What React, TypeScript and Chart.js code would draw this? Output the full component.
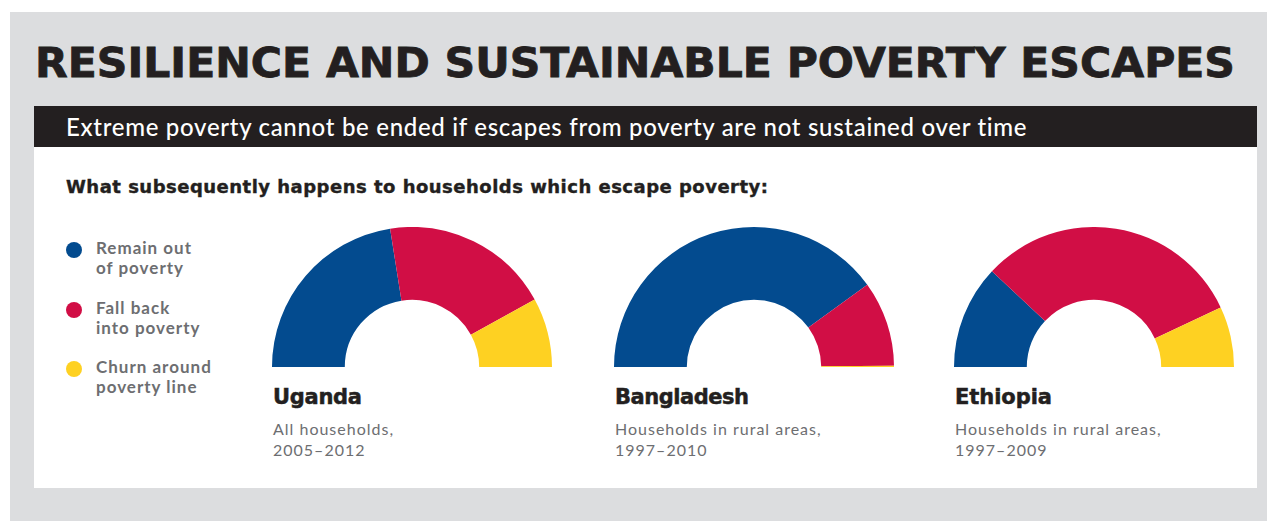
import React, { useEffect, useLayoutEffect, useRef } from "react";
import { Chart, registerables } from "chart.js";

Chart.register(...registerables);

const title = "RESILIENCE AND SUSTAINABLE POVERTY ESCAPES";
const subtitle = "Extreme poverty cannot be ended if escapes from poverty are not sustained over time";
const question = "What subsequently happens to households which escape poverty:";

const seriesNames = ["Remain out of poverty", "Fall back into poverty", "Churn around poverty line"];
const legendLines = [["Remain out", "of poverty"], ["Fall back", "into poverty"], ["Churn around", "poverty line"]];
const seriesColors = ["#034b8f", "#d10e45", "#fed122"];

const countries = ["Uganda", "Bangladesh", "Ethiopia"];
const countryNotes = [
  ["All households,", "2005–2012"],
  ["Households in rural areas,", "1997–2010"],
  ["Households in rural areas,", "1997–2009"],
];
const remainOut = [45, 80, 24];
const fallBack = [39, 19.7, 62];
const churn = [16, 0.3, 14];

const FONT = "Lato, 'Open Sans', sans-serif";
const HEAVY = "'DejaVu Sans', 'Open Sans', sans-serif";
const DARK = "#231f20";
const GREY = "#6d6e71";

function FitText({
  text,
  width,
  style,
  scale,
}: {
  text: string;
  width: number;
  style: React.CSSProperties;
  scale?: boolean;
}) {
  const ref = useRef<HTMLSpanElement>(null);
  useLayoutEffect(() => {
    const el = ref.current;
    if (!el) return;
    el.style.letterSpacing = "0px";
    el.style.transform = "none";
    const w = el.getBoundingClientRect().width;
    if (scale) {
      el.style.transformOrigin = "0 0";
      el.style.transform = `scaleX(${width / w})`;
    } else {
      const n = Math.max(text.length - 1, 1);
      el.style.letterSpacing = (width - w) / n + "px";
    }
  }, [text, width, scale]);
  return (
    <span ref={ref} style={{ ...style, whiteSpace: "nowrap", display: "inline-block" }}>
      {text}
    </span>
  );
}

function HalfDoughnut({ idx, left }: { idx: number; left: number }) {
  const ref = useRef<HTMLCanvasElement>(null);
  useEffect(() => {
    if (!ref.current) return;
    const chart = new Chart(ref.current, {
      type: "doughnut",
      data: {
        labels: seriesNames,
        datasets: [
          {
            data: [remainOut[idx], fallBack[idx], churn[idx]],
            backgroundColor: seriesColors,
            borderWidth: 0,
          },
        ],
      },
      options: {
        responsive: false,
        animation: false,
        rotation: -90,
        circumference: 180,
        cutout: "48%",
        layout: { padding: 0 },
        plugins: { legend: { display: false }, tooltip: { enabled: false } },
      },
    });
    return () => chart.destroy();
  }, [idx]);
  return (
    <canvas
      ref={ref}
      width={280}
      height={140}
      style={{ position: "absolute", left, top: 227, width: 280, height: 140 }}
    />
  );
}

const nameWidths = [89, 134, 97];

export default function App() {
  const chartLefts = [272, 614, 954];
  return (
    <div
      style={{
        position: "fixed",
        left: 0,
        top: 0,
        width: 1267,
        height: 521,
        background: "#ffffff",
        overflow: "hidden",
        fontFamily: FONT,
      }}
    >
      <div style={{ position: "absolute", left: 10, top: 12, width: 1257, height: 509, background: "#dcdddf" }} />
      <div style={{ position: "absolute", left: 35, top: 38 }}>
        <FitText
          text={title}
          width={1200}
          scale
          style={{
            fontFamily: HEAVY,
            fontSize: 41,
            fontWeight: 700,
            color: DARK,
            lineHeight: "50px",
            WebkitTextStroke: "0.8px " + DARK,
          }}
        />
      </div>
      <div style={{ position: "absolute", left: 34, top: 106, width: 1223, height: 382, background: "#ffffff" }} />
      <div
        style={{
          position: "absolute",
          left: 34,
          top: 106,
          width: 1223,
          height: 41,
          background: DARK,
        }}
      />
      <div style={{ position: "absolute", left: 66, top: 111 }}>
        <FitText text={subtitle} width={961} style={{ color: "#ffffff", fontSize: 24, lineHeight: "32px", fontWeight: 500 }} />
      </div>
      <div style={{ position: "absolute", left: 66, top: 176 }}>
        <FitText
          text={question}
          width={702}
          style={{
            fontFamily: HEAVY,
            fontSize: 18,
            fontWeight: 700,
            color: DARK,
            lineHeight: "22px",
            WebkitTextStroke: "0.4px " + DARK,
          }}
        />
      </div>
      {legendLines.map((lines, i) => (
        <div key={i}>
          <div
            style={{
              position: "absolute",
              left: 66,
              top: 242 + i * 59.5,
              width: 16,
              height: 16,
              borderRadius: 8,
              background: seriesColors[i],
            }}
          />
          <div
            style={{
              position: "absolute",
              left: 96,
              top: 238 + i * 59.5,
              fontSize: 17,
              fontWeight: 700,
              color: GREY,
              lineHeight: "20px",
              whiteSpace: "nowrap",
              letterSpacing: 1,
            }}
          >
            {lines.map((l, k) => (
              <div key={k}>{l}</div>
            ))}
          </div>
        </div>
      ))}
      {countries.map((c, i) => (
        <div key={c}>
          <HalfDoughnut idx={i} left={chartLefts[i]} />
          <div style={{ position: "absolute", left: chartLefts[i] + 1, top: 385 }}>
            <FitText
              text={c}
              width={nameWidths[i]}
              style={{
                fontFamily: HEAVY,
                fontSize: 21,
                fontWeight: 700,
                color: DARK,
                lineHeight: "25px",
                WebkitTextStroke: "0.5px " + DARK,
              }}
            />
          </div>
          <div
            style={{
              position: "absolute",
              left: chartLefts[i] + 1,
              top: 418,
              fontSize: 16,
              color: GREY,
              lineHeight: "21px",
              whiteSpace: "nowrap",
              letterSpacing: 1,
            }}
          >
            {countryNotes[i].map((l, k) => (
              <div key={k}>{l}</div>
            ))}
          </div>
        </div>
      ))}
    </div>
  );
}
